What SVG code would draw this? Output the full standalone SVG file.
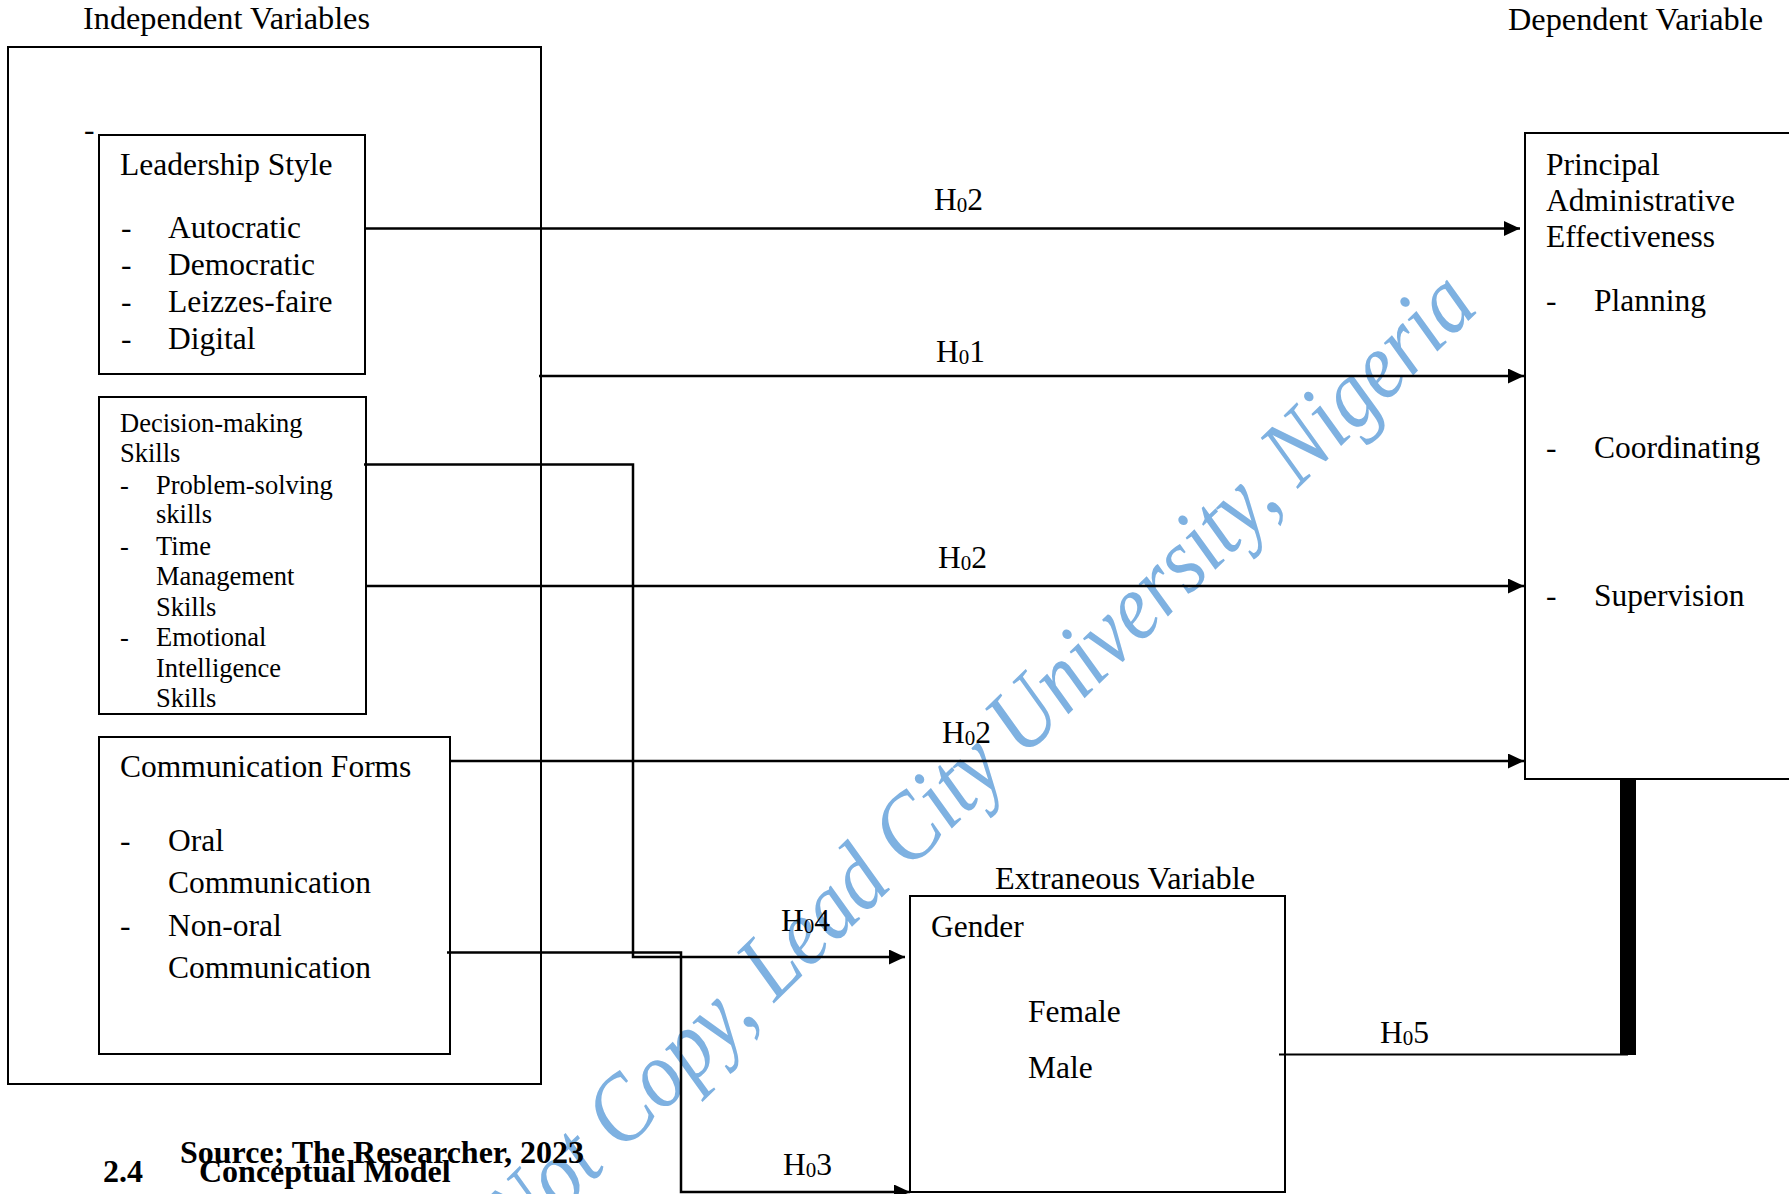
<svg xmlns="http://www.w3.org/2000/svg" width="1789" height="1194" viewBox="0 0 1789 1194">
<style>
  .t { font-family: "Liberation Serif", "Times New Roman", serif; font-size: 31.5px; fill: #000; }
  .s { font-size: 26.5px; }
  .b { font-weight: bold; font-size: 32px; }
  .sub { font-size: 21px; }
  .box { fill: none; stroke: #000; stroke-width: 2; }
  .conn { fill: none; stroke: #000; stroke-width: 2.5; }
  .wm { font-family: "Liberation Serif", "Times New Roman", serif; font-style: italic; font-size: 95px; fill: #7eb1e1; }
</style>
<defs>
  <marker id="arr" markerUnits="userSpaceOnUse" markerWidth="16" markerHeight="15" refX="16" refY="7.5" orient="auto">
    <path d="M0,0 L16,7.5 L0,15 Z" fill="#000"/>
  </marker>
</defs>
<rect x="0" y="0" width="1789" height="1194" fill="#fff"/>

<g id="watermark">
  <text class="wm" transform="translate(521,1252) rotate(-44.5)" textLength="1345" lengthAdjust="spacingAndGlyphs">Not Copy, Lead City University, Nigeria</text>
</g>

<g id="independent-variables">
  <text class="t" x="83" y="29" textLength="287" lengthAdjust="spacingAndGlyphs">Independent Variables</text>
  <rect class="box" x="8" y="47" width="533" height="1037"/>
  <text class="t" x="84" y="140">-</text>
</g>

<g id="leadership-style">
  <rect class="box" x="99" y="135" width="266" height="239"/>
  <text class="t" x="120" y="175">Leadership Style</text>
  <text class="t" x="121" y="238">-</text><text class="t" x="168" y="238">Autocratic</text>
  <text class="t" x="121" y="275">-</text><text class="t" x="168" y="275">Democratic</text>
  <text class="t" x="121" y="312">-</text><text class="t" x="168" y="312">Leizzes-faire</text>
  <text class="t" x="121" y="349">-</text><text class="t" x="168" y="349">Digital</text>
</g>

<g id="decision-making-skills">
  <rect class="box" x="99" y="397" width="267" height="317"/>
  <text class="t s" x="120" y="432">Decision-making</text>
  <text class="t s" x="120" y="462">Skills</text>
  <text class="t s" x="120" y="494">-</text><text class="t s" x="156" y="494">Problem-solving</text>
  <text class="t s" x="156" y="523">skills</text>
  <text class="t s" x="120" y="555">-</text><text class="t s" x="156" y="555">Time</text>
  <text class="t s" x="156" y="585">Management</text>
  <text class="t s" x="156" y="616">Skills</text>
  <text class="t s" x="120" y="646">-</text><text class="t s" x="156" y="646">Emotional</text>
  <text class="t s" x="156" y="677">Intelligence</text>
  <text class="t s" x="156" y="707">Skills</text>
</g>

<g id="communication-forms">
  <rect class="box" x="99" y="737" width="351" height="317"/>
  <text class="t" x="120" y="777">Communication Forms</text>
  <text class="t" x="120" y="851">-</text><text class="t" x="168" y="851">Oral</text>
  <text class="t" x="168" y="893">Communication</text>
  <text class="t" x="120" y="936">-</text><text class="t" x="168" y="936">Non-oral</text>
  <text class="t" x="168" y="978">Communication</text>
</g>

<g id="principal-administrative-effectiveness">
  <text class="t" x="1508" y="30" textLength="255" lengthAdjust="spacingAndGlyphs">Dependent Variable</text>
  <rect class="box" x="1525" y="133" width="300" height="646"/>
  <text class="t" x="1546" y="175">Principal</text>
  <text class="t" x="1546" y="211">Administrative</text>
  <text class="t" x="1546" y="247">Effectiveness</text>
  <text class="t" x="1546" y="311">-</text><text class="t" x="1594" y="311">Planning</text>
  <text class="t" x="1546" y="458">-</text><text class="t" x="1594" y="458">Coordinating</text>
  <text class="t" x="1546" y="606">-</text><text class="t" x="1594" y="606">Supervision</text>
</g>

<g id="gender">
  <text class="t" x="995" y="889" textLength="260" lengthAdjust="spacingAndGlyphs">Extraneous Variable</text>
  <rect class="box" x="910" y="896" width="375" height="296"/>
  <text class="t" x="931" y="937">Gender</text>
  <text class="t" x="1028" y="1022">Female</text>
  <text class="t" x="1028" y="1078">Male</text>
</g>

<g id="connectors">
  <path class="conn" d="M365,228.5 H1520" marker-end="url(#arr)"/>
  <path class="conn" d="M539,376 H1524" marker-end="url(#arr)"/>
  <path class="conn" d="M364,464.5 H633 V957 H905" marker-end="url(#arr)"/>
  <path class="conn" d="M366,586 H1524" marker-end="url(#arr)"/>
  <path class="conn" d="M450,761 H1524" marker-end="url(#arr)"/>
  <path class="conn" d="M447,952.5 H681 V1192 H910" marker-end="url(#arr)"/>
  <path class="conn" d="M1279,1054.5 H1628" style="stroke-width:2"/>
  <rect x="1620" y="779" width="16" height="276" fill="#000"/>
  <text class="t" x="934" y="210">H<tspan class="sub" dy="2">0</tspan><tspan dy="-2">2</tspan></text>
  <text class="t" x="936" y="362">H<tspan class="sub" dy="2">0</tspan><tspan dy="-2">1</tspan></text>
  <text class="t" x="938" y="568">H<tspan class="sub" dy="2">0</tspan><tspan dy="-2">2</tspan></text>
  <text class="t" x="942" y="743">H<tspan class="sub" dy="2">0</tspan><tspan dy="-2">2</tspan></text>
  <text class="t" x="781" y="931">H<tspan class="sub" dy="2">0</tspan><tspan dy="-2">4</tspan></text>
  <text class="t" x="783" y="1175">H<tspan class="sub" dy="2">0</tspan><tspan dy="-2">3</tspan></text>
  <text class="t" x="1380" y="1043">H<tspan class="sub" dy="2">0</tspan><tspan dy="-2">5</tspan></text>
</g>

<g id="caption">
  <text class="t b" x="180" y="1163">Source; The Researcher, 2023</text>
  <text class="t b" x="103" y="1182">2.4</text>
  <text class="t b" x="199" y="1182">Conceptual Model</text>
</g>
</svg>
